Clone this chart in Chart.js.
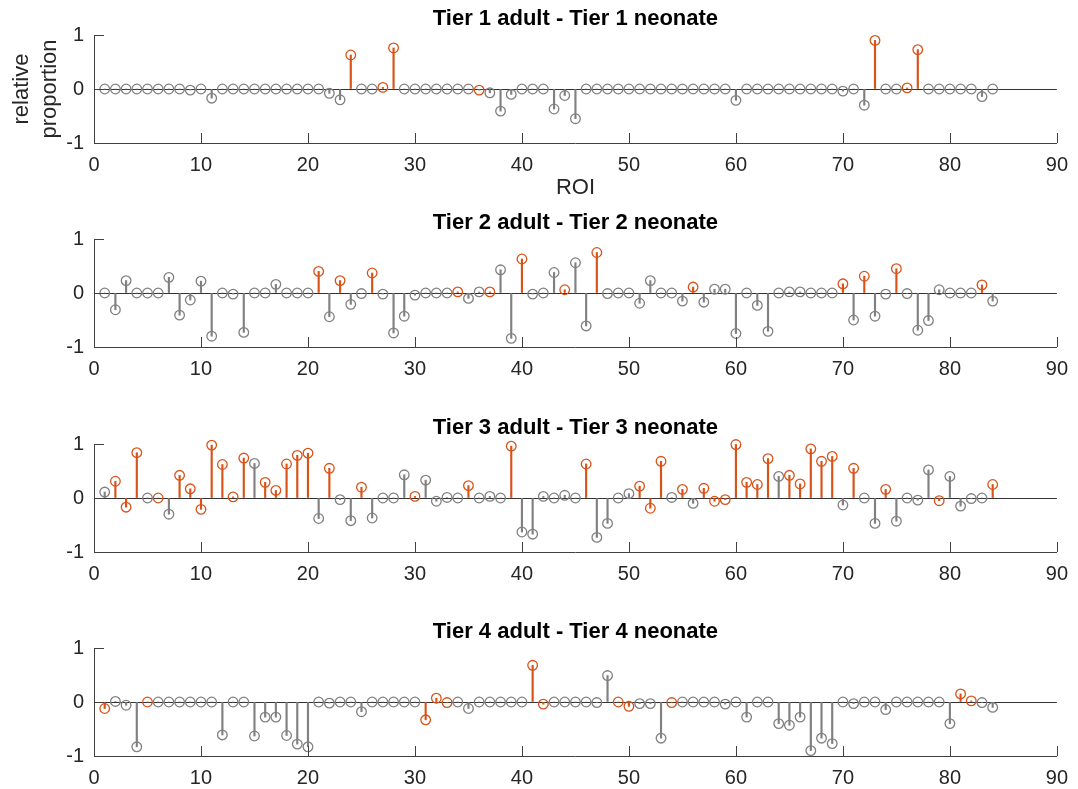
<!DOCTYPE html>
<html>
<head>
<meta charset="utf-8">
<title>Tier differences</title>
<script src="https://cdn.jsdelivr.net/npm/chart.js@4"></script>
<style>
  body { margin: 0; background: #fff; }
  #wrap { position: relative; width: 1078px; height: 789px; overflow: hidden; }
  canvas { position: absolute; left: 0; }
</style>
</head>
<body>
<div id="wrap"></div>
<script>
// ROI numbers (x positions of the stems)
const roi = [1,2,3,4,5,6,7,8,9,10,11,12,13,14,15,16,17,18,19,20,21,22,23,24,25,26,27,28,29,30,
  31,32,33,34,35,36,37,38,39,40,41,42,43,44,45,46,47,48,49,50,51,52,53,54,55,56,57,58,59,60,
  61,62,63,64,65,66,67,68,69,70,71,72,73,74,75,76,77,78,79,80,81,82,83,84];

// relative proportion, adult minus neonate, per tier
const tier1 = [0,0,0,0,0,0,0,0,-0.02,0, -0.17,0,0,0,0,0,0,0,0,0, 0,-0.08,-0.2,0.63,0,0,0.03,0.76,0,0,
  0,0,0,0,0,-0.02,-0.07,-0.41,-0.1,0, 0,0,-0.37,-0.12,-0.55,0,0,0,0,0, 0,0,0,0,0,0,0,0,0,-0.21,
  0,0,0,0,0,0,0,0,0,-0.04, 0,-0.3,0.9,0,0,0.02,0.73,0,0,0, 0,0,-0.14,0];
const tier2 = [0,-0.31,0.23,0,0,0,0.29,-0.41,-0.13,0.22, -0.8,0,-0.02,-0.73,0,0,0.16,0,0,0,
  0.4,-0.44,0.23,-0.21,-0.01,0.37,-0.02,-0.74,-0.43,-0.04, 0,0,0,0.02,-0.1,0.02,0.02,0.43,-0.84,0.63,
  -0.02,0,0.38,0.06,0.56,-0.61,0.75,-0.01,0,0, -0.19,0.23,0,0,-0.15,0.11,-0.17,0.07,0.07,-0.75,
  0,-0.23,-0.71,0,0.02,0.02,0,0,0,0.17, -0.5,0.31,-0.43,-0.02,0.45,-0.01,-0.69,-0.51,0.06,0,
  0,0,0.15,-0.15];
const tier3 = [0.11,0.31,-0.17,0.84,0,0,-0.3,0.42,0.17,-0.21, 0.98,0.62,0.02,0.74,0.64,0.29,0.14,0.63,0.79,0.83,
  -0.38,0.55,-0.03,-0.42,0.2,-0.37,0,0,0.43,0.03, 0.33,-0.06,0.01,0,0.23,0,0.03,0,0.96,-0.63,
  -0.67,0.03,0,0.05,0,0.63,-0.73,-0.47,0,0.08, 0.22,-0.19,0.68,0.01,0.16,-0.1,0.18,-0.06,-0.03,0.99,
  0.29,0.25,0.73,0.4,0.42,0.26,0.91,0.68,0.77,-0.13, 0.55,0,-0.47,0.16,-0.43,0,-0.04,0.52,-0.05,0.4,
  -0.15,-0.01,0,0.25];
const tier4 = [-0.12,0.01,-0.06,-0.83,0,0,0,0,0,0, 0,-0.61,0,0,-0.63,-0.28,-0.28,-0.62,-0.78,-0.83,
  0,-0.02,0,0,-0.18,0,0,0,0,0, -0.33,0.07,-0.01,0,-0.12,0,0,0,0,0, 0.68,-0.04,0,0,0,0,-0.01,0.49,0,-0.08,
  -0.03,-0.03,-0.67,-0.01,0,0,0,0,-0.04,0, -0.28,0,0,-0.4,-0.43,-0.28,-0.9,-0.67,-0.77,0,
  -0.03,0,0,-0.14,0,0,0,0,0,-0.4, 0.15,0.02,-0.01,-0.1];

// ROIs drawn in orange (significant)
const tier1Sig = [24,27,28,36,73,76,77];
const tier2Sig = [21,23,26,34,37,40,44,47,56,70,72,75,83];
const tier3Sig = [2,3,4,6,8,9,10,11,12,13,14,16,17,18,19,20,22,25,30,35,39,46,51,52,53,55,57,58,59,
  60,61,62,63,65,66,67,68,69,71,74,79,84];
const tier4Sig = [1,5,31,32,33,41,42,49,50,54,81,82];

const xTicks = [0,10,20,30,40,50,60,70,80,90];
const yTicks = [-1,0,1];

const grey = "#808080";
const orange = "#D95319";
const axisColor = "#404040";
const font = "'Liberation Sans', Arial, Helvetica, sans-serif";

// MATLAB style ticks pointing into the axes
const innerTicks = {
  id: "innerTicks",
  afterDraw(chart) {
    const { ctx, chartArea, scales } = chart;
    ctx.save();
    ctx.strokeStyle = axisColor;
    ctx.lineWidth = 1;
    ctx.beginPath();
    xTicks.forEach(v => {
      const px = Math.round(scales.x.getPixelForValue(v)) + 0.5;
      ctx.moveTo(px, chartArea.bottom);
      ctx.lineTo(px, chartArea.bottom - 10);
    });
    yTicks.forEach(v => {
      const py = Math.round(scales.y.getPixelForValue(v)) + 0.5;
      ctx.moveTo(chartArea.left, py);
      ctx.lineTo(chartArea.left + 10, py);
    });
    ctx.stroke();
    ctx.restore();
  }
};

const panels = [
  { title: "Tier 1 adult - Tier 1 neonate", values: tier1, sig: tier1Sig, top: 35, labels: true },
  { title: "Tier 2 adult - Tier 2 neonate", values: tier2, sig: tier2Sig, top: 239, labels: false },
  { title: "Tier 3 adult - Tier 3 neonate", values: tier3, sig: tier3Sig, top: 444, labels: false },
  { title: "Tier 4 adult - Tier 4 neonate", values: tier4, sig: tier4Sig, top: 648, labels: false }
];

const plotH = 108;
const headH = 35;
const wrap = document.getElementById("wrap");

panels.forEach(p => {
  const footH = p.labels ? 58 : 40;
  const canvas = document.createElement("canvas");
  canvas.width = 1078;
  canvas.height = headH + plotH + footH;
  canvas.style.top = (p.top - headH) + "px";
  wrap.appendChild(canvas);

  const points = roi.map((r, i) => ({ x: r, y: p.values[i] }));
  const colors = roi.map(r => p.sig.includes(r) ? orange : grey);

  new Chart(canvas.getContext("2d"), {
    type: "bar",
    data: {
      datasets: [
        {
          type: "scatter",
          data: points,
          borderColor: colors,
          backgroundColor: "rgba(0,0,0,0)",
          pointRadius: 4.8,
          pointBorderWidth: 1.3,
          pointHoverRadius: 4.8,
          clip: false
        },
        {
          type: "bar",
          data: points,
          backgroundColor: colors,
          barThickness: 1.5,
          base: 0,
          clip: false
        }
      ]
    },
    plugins: [innerTicks],
    options: {
      responsive: false,
      animation: false,
      events: [],
      layout: { padding: { left: 0, right: 17, top: 0, bottom: 0 } },
      plugins: {
        legend: { display: false },
        tooltip: { enabled: false },
        title: {
          display: true,
          text: p.title,
          fullSize: false,
          color: "#000",
          font: { family: font, size: 22, weight: "bold", lineHeight: 1.2 },
          padding: { top: 5.8, bottom: 2.8 }
        }
      },
      scales: {
        x: {
          type: "linear",
          min: 0,
          max: 90,
          offset: false,
          afterFit: s => { s.height = footH; },
          ticks: {
            stepSize: 10,
            padding: 10,
            maxRotation: 0,
            color: "#262626",
            font: { family: font, size: 20 }
          },
          grid: { display: false, drawTicks: false },
          border: { display: true, color: axisColor, width: 1 },
          title: {
            display: p.labels,
            text: "ROI",
            color: "#262626",
            padding: 0,
            font: { family: font, size: 22, lineHeight: 1.2 }
          }
        },
        y: {
          min: -1,
          max: 1,
          afterFit: s => { s.width = 94; },
          ticks: {
            stepSize: 1,
            padding: 10,
            color: "#262626",
            font: { family: font, size: 20 }
          },
          grid: {
            drawTicks: false,
            lineWidth: 1,
            color: c => c.tick && c.tick.value === 0 ? "#333333" : "rgba(0,0,0,0)"
          },
          border: { display: true, color: axisColor, width: 1 },
          title: {
            display: p.labels,
            text: ["relative", "proportion"],
            color: "#262626",
            padding: { top: 8, bottom: 0 },
            font: { family: font, size: 22, lineHeight: 1.27 }
          }
        }
      }
    }
  });
});
</script>
</body>
</html>
